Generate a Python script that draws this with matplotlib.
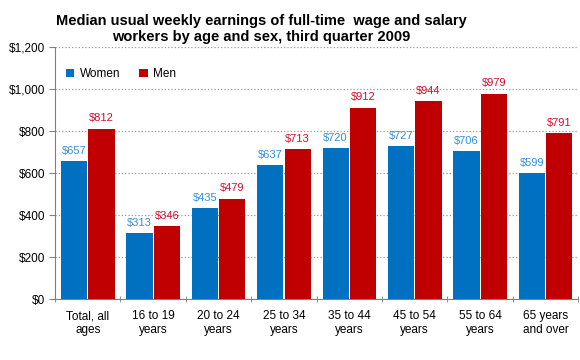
import matplotlib
matplotlib.use('Agg')
import matplotlib.pyplot as plt
import numpy as np

plt.rcParams['font.family'] = ['Liberation Sans', 'DejaVu Sans']

categories = ['Total, all\nages', '16 to 19\nyears', '20 to 24\nyears', '25 to 34\nyears',
              '35 to 44\nyears', '45 to 54\nyears', '55 to 64\nyears', '65 years\nand over']
women = [657, 313, 435, 637, 720, 727, 706, 599]
men = [812, 346, 479, 713, 912, 944, 979, 791]

blue = '#0070C0'
red = '#C00000'

fig = plt.figure(figsize=(5.8, 3.6), dpi=100)
ax = fig.add_axes([0.095, 0.169, 0.902, 0.7])

x = np.arange(len(categories))
w = 0.4
ax.bar(x - w / 2 - 0.01, women, w, color=blue, label='Women', zorder=3)
ax.bar(x + w / 2 + 0.01, men, w, color=red, label='Men', zorder=3)

for xi, v in zip(x, women):
    ax.text(xi - w / 2 - 0.01, v + 25, f'${v}', ha='center', va='bottom',
            fontsize=8, color='#2E8FE0')
for xi, v in zip(x, men):
    ax.text(xi + w / 2 + 0.01, v + 25, f'${v}', ha='center', va='bottom',
            fontsize=8, color='#D0102A')

ax.set_xlim(-0.5, len(categories) - 0.5)
ax.set_ylim(0, 1200)
ax.set_yticks(range(0, 1201, 200))
ax.set_yticklabels([f'${v:,}' for v in range(0, 1201, 200)], fontsize=8.5)
ax.yaxis.grid(True, linestyle=':', color='#999999', linewidth=0.9, zorder=0)

ax.set_xticks(x)
ax.set_xticklabels(categories, fontsize=8.5)
ax.tick_params(axis='x', length=0, pad=8)
ax.set_xticks(np.arange(-0.5, len(categories), 1), minor=True)
ax.tick_params(axis='x', which='minor', length=5, color='#808080', direction='inout')
ax.tick_params(axis='y', length=4, color='#808080', pad=3)

for s in ['top', 'right']:
    ax.spines[s].set_visible(False)
for s in ['left', 'bottom']:
    ax.spines[s].set_color('#808080')

ax.legend(loc='upper left', bbox_to_anchor=(0.0, 0.96), ncol=2, frameon=False,
          fontsize=8.5, handlelength=0.7, handleheight=0.7, columnspacing=1.6,
          handletextpad=0.5)

fig.text(0.45, 0.962, 'Median usual weekly earnings of full-time  wage and salary\n'
         'workers by age and sex, third quarter 2009',
         ha='center', va='top', ma='center', fontsize=10.5, fontweight='bold',
         linespacing=1.25)

fig.savefig('out.png', dpi=100)
